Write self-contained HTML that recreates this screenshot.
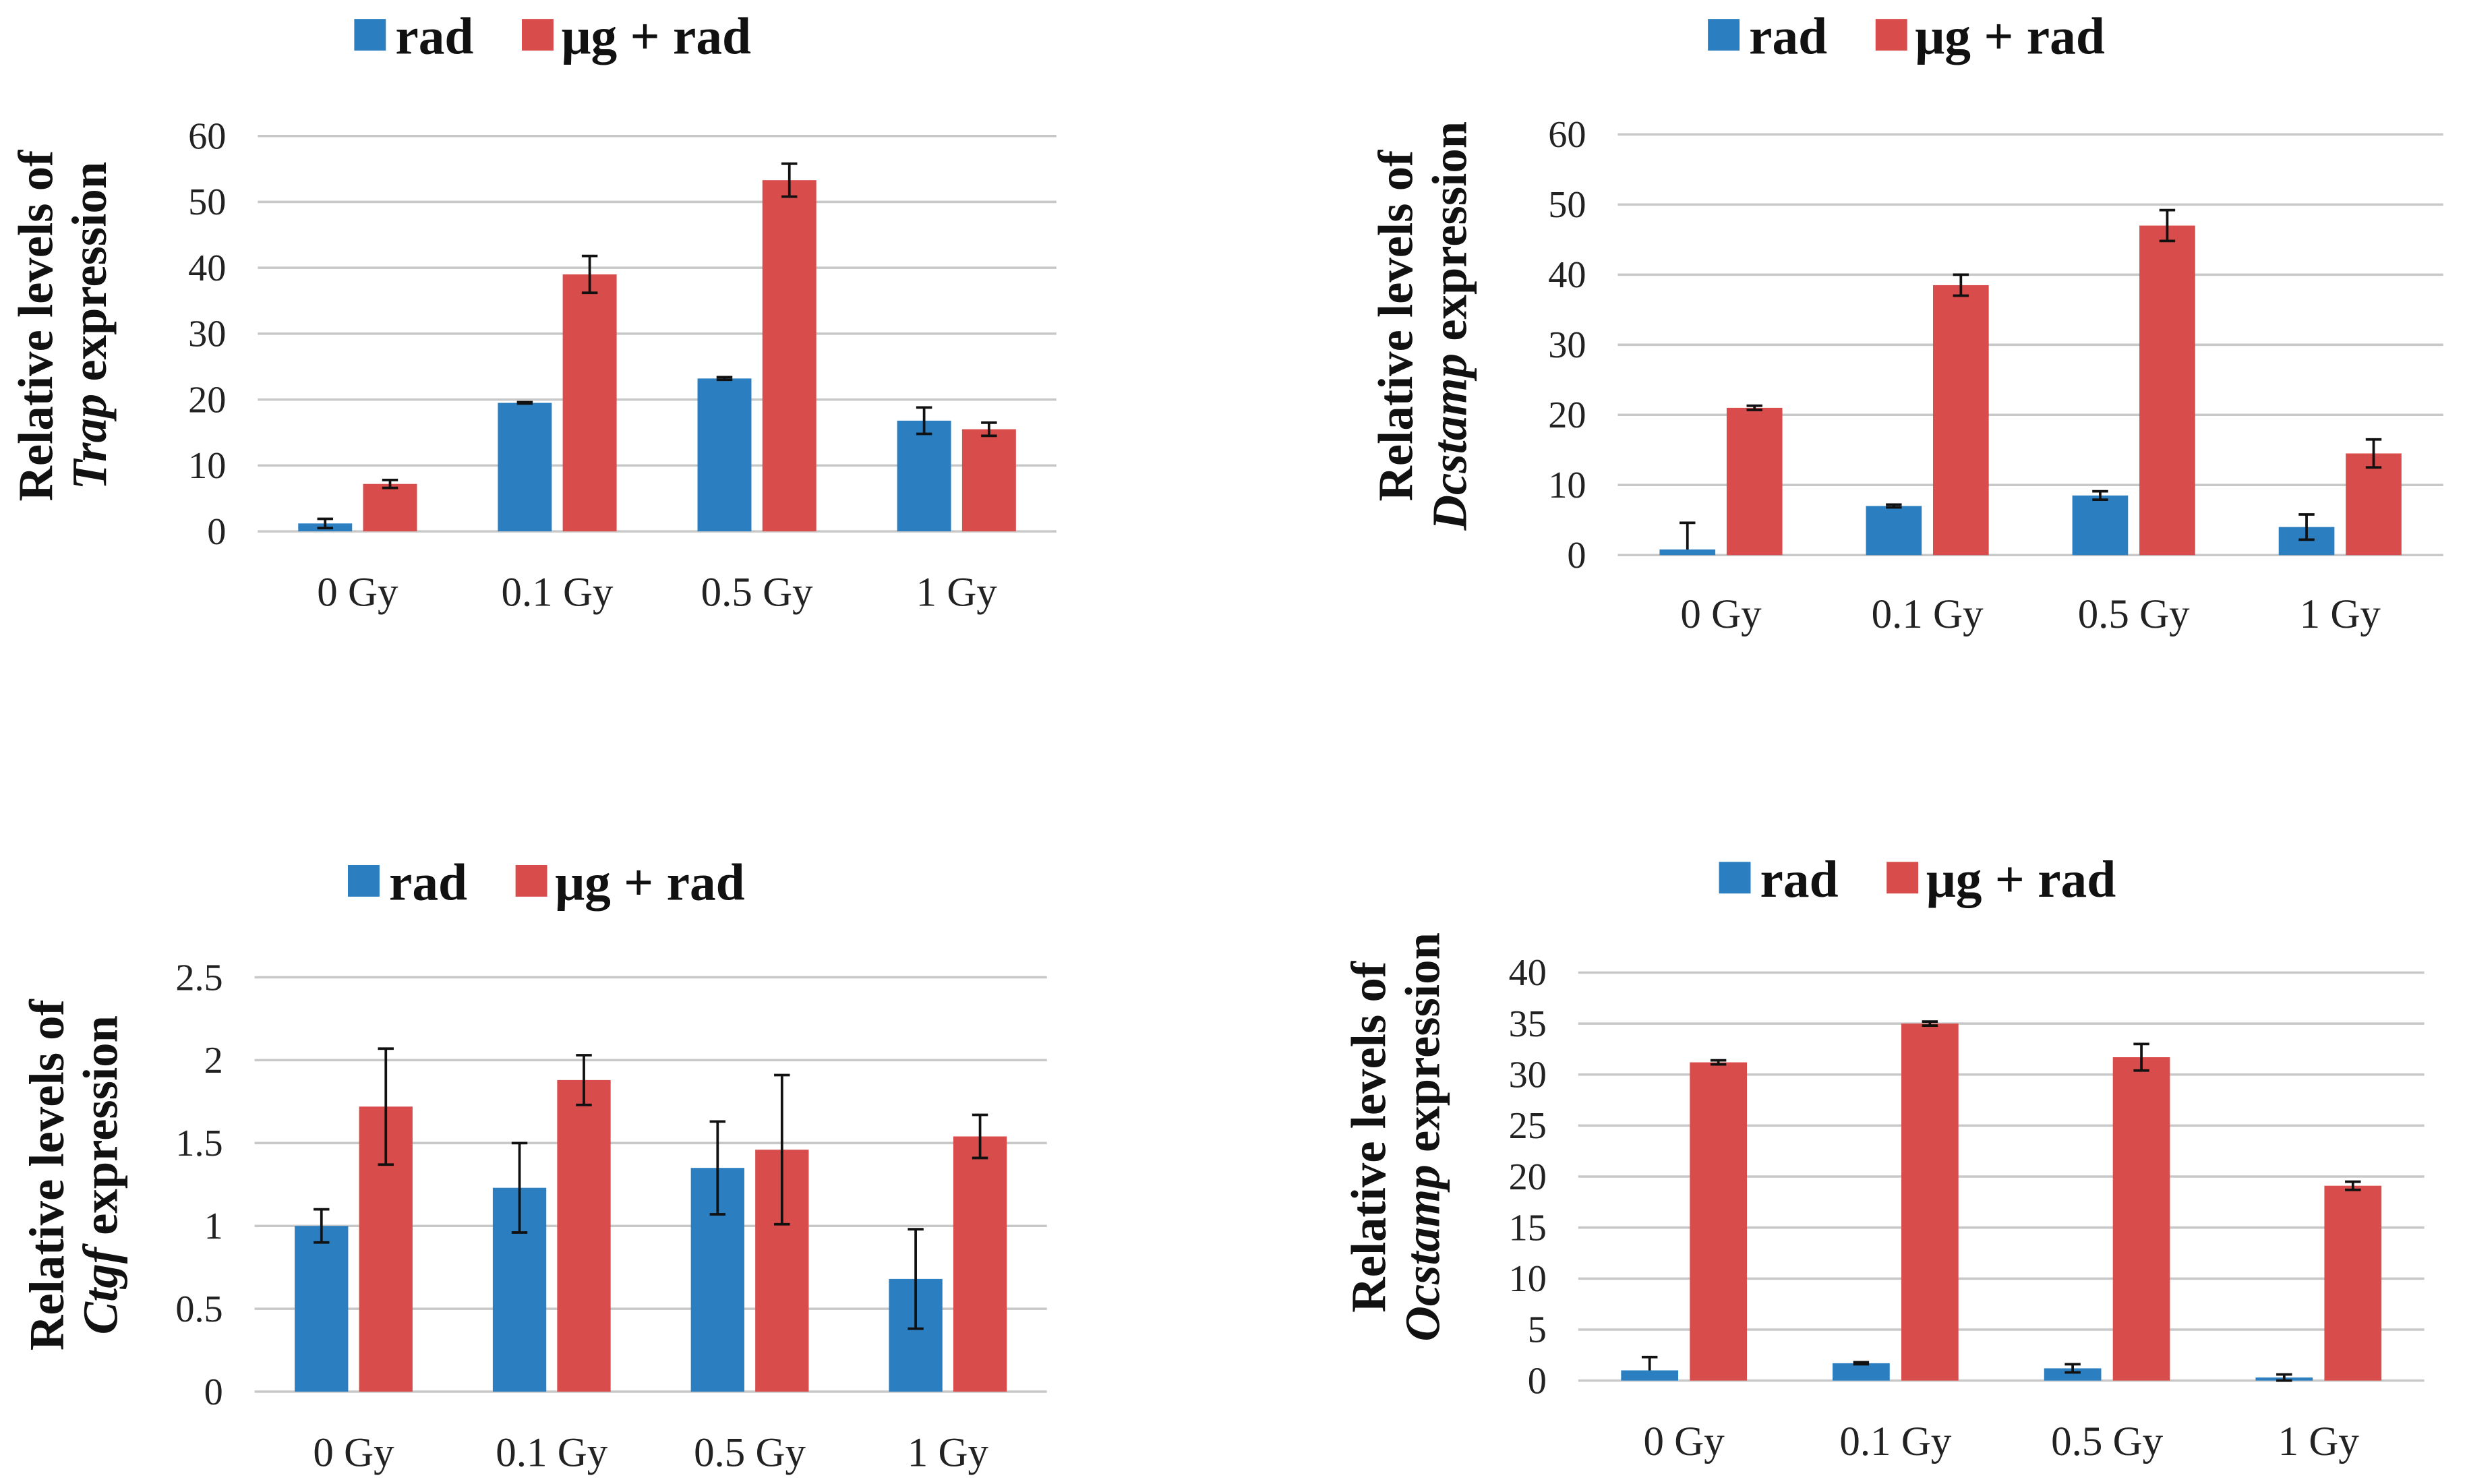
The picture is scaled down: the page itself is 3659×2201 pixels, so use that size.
<!DOCTYPE html>
<html><head><meta charset="utf-8"><style>
html,body{margin:0;padding:0;background:#fff;}
svg{display:block;}
text{font-family:"Liberation Serif",serif;}
</style></head>
<body>
<svg id="fig" width="3659" height="2201" viewBox="0 0 1560 938.4" preserveAspectRatio="none" xmlns="http://www.w3.org/2000/svg"></svg>
<script>
const categories = ["0 Gy","0.1 Gy","0.5 Gy","1 Gy"];
// Panel A: Trap
const trapTicks = [0,10,20,30,40,50,60];
const trapRad = [1.2,19.5,23.2,16.8];
const trapRadErrUp = [0.7,0.1,0.2,2.0];
const trapRadErrDn = [0.7,0.1,0.2,2.0];
const trapMg = [7.2,39,53.3,15.5];
const trapMgErrUp = [0.6,2.8,2.5,1.0];
const trapMgErrDn = [0.6,2.8,2.5,1.0];
// Panel B: Dcstamp
const dcTicks = [0,10,20,30,40,50,60];
const dcRad = [0.8,7.0,8.5,4.0];
const dcRadErrUp = [3.8,0.2,0.6,1.8];
const dcRadErrDn = [0,0.2,0.6,1.8];
const dcMg = [21,38.5,47,14.5];
const dcMgErrUp = [0.3,1.5,2.2,2.0];
const dcMgErrDn = [0.3,1.5,2.2,2.0];
// Panel C: Ctgf
const ctTicks = [0,0.5,1,1.5,2,2.5];
const ctTickLabels = ["0","0.5","1","1.5","2","2.5"];
const ctRad = [1.0,1.23,1.35,0.68];
const ctRadErrUp = [0.1,0.27,0.28,0.3];
const ctRadErrDn = [0.1,0.27,0.28,0.3];
const ctMg = [1.72,1.88,1.46,1.54];
const ctMgErrUp = [0.35,0.15,0.45,0.13];
const ctMgErrDn = [0.35,0.15,0.45,0.13];
// Panel D: Ocstamp
const ocTicks = [0,5,10,15,20,25,30,35,40];
const ocRad = [1.0,1.7,1.2,0.3];
const ocRadErrUp = [1.3,0.1,0.4,0.3];
const ocRadErrDn = [0,0.1,0.4,0.3];
const ocMg = [31.2,35,31.7,19.1];
const ocMgErrUp = [0.2,0.2,1.3,0.4];
const ocMgErrDn = [0.2,0.2,1.3,0.4];

const NS="http://www.w3.org/2000/svg";
const svg=document.getElementById('fig');
function mk(tag,attrs,parent){const e=document.createElementNS(NS,tag);for(const k in attrs)e.setAttribute(k,attrs[k]);(parent||svg).appendChild(e);return e;}
const BLUE="#2b7fc1", RED="#d94c4c";

function panel(p){
  const g=mk('g',{});
  
  
  const ymax=p.ticks[p.ticks.length-1];
  const yS=v=>p.y0-(v/ymax)*(p.y0-p.yTop);
  const cw=(p.x1-p.x0)/categories.length;
  const xS=i=>p.x0+cw*i;
  p.ticks.forEach((t,i)=>{
    const gl=mk('line',{x1:p.x0,x2:p.x1,y1:yS(t),y2:yS(t),stroke:"#c8c8c8","stroke-width":1.5},g);
    
    
    const tl=mk('text',{x:p.x0-20,y:yS(t)+8,"text-anchor":"end","font-size":24,fill:"#222"},g);
    tl.textContent=p.tickLabels?p.tickLabels[i]:String(t);
    
    
  });
  const bw=cw*0.27, gap=cw*0.055;
  const series=[[p.rad,p.radUp,p.radDn,BLUE,'rad'],[p.mg,p.mgUp,p.mgDn,RED,'mg-rad']];
  categories.forEach((c,i)=>{
    const cx=xS(i)+cw/2;
    series.forEach((s,k)=>{
      const bx=k===0?cx-gap/2-bw:cx+gap/2;
      const v=s[0][i];
      const r=mk('rect',{x:bx,y:yS(v),width:bw,height:p.y0-yS(v),fill:s[3]},g);
      
      
      const ex=bx+bw/2, yt=yS(v+s[1][i]), yb=yS(v-s[2][i]);
      const eb=mk('path',{d:`M${ex},${yt}V${yb}M${ex-5},${yt}H${ex+5}`+(s[2][i]>0?`M${ex-5},${yb}H${ex+5}`:''),stroke:"#111","stroke-width":1.6,fill:"none"},g);
      
      
    });
    const xl=mk('text',{x:cx,y:p.xl,"text-anchor":"middle","font-size":26,fill:"#222"},g);
    xl.textContent=c;
    
    
  });
  const tt=mk('text',{transform:`translate(${p.tx},${p.ty}) rotate(-90)`,"text-anchor":"middle","font-size":31,"font-weight":"bold",fill:"#111"},g);
  
  
  const t1=mk('tspan',{x:0,y:0},tt); t1.textContent="Relative levels of";
  const t2=mk('tspan',{x:0,dy:34},tt);
  const it=mk('tspan',{"font-style":"italic"},t2); it.textContent=p.gene;
  const t3=mk('tspan',{},t2); t3.textContent=" expression";
  const lg=mk('g',{},g);
  
  
  mk('rect',{x:p.lx,y:p.ly-11,width:20,height:20,fill:BLUE},lg);
  const a=mk('text',{x:p.lx+26,y:p.ly+11,"font-size":33,"font-weight":"bold",fill:"#111"},lg); a.textContent="rad";
  mk('rect',{x:p.lx+106,y:p.ly-11,width:20,height:20,fill:RED},lg);
  const b=mk('text',{x:p.lx+131,y:p.ly+11,"font-size":33,"font-weight":"bold",fill:"#111"},lg); b.textContent="μg + rad";
}
panel({name:'trap-chart',gene:'Trap',ticks:trapTicks,rad:trapRad,radUp:trapRadErrUp,radDn:trapRadErrDn,mg:trapMg,mgUp:trapMgErrUp,mgDn:trapMgErrDn,
  x0:163,x1:668,y0:336,yTop:86,xl:383,tx:33,ty:206,lx:224,ly:23});
panel({name:'dcstamp-chart',gene:'Dcstamp',ticks:dcTicks,rad:dcRad,radUp:dcRadErrUp,radDn:dcRadErrDn,mg:dcMg,mgUp:dcMgErrUp,mgDn:dcMgErrDn,
  x0:1023,x1:1545,y0:351,yTop:85,xl:397,tx:893,ty:206,lx:1080,ly:23});
panel({name:'ctgf-chart',gene:'Ctgf',ticks:ctTicks,tickLabels:ctTickLabels,rad:ctRad,radUp:ctRadErrUp,radDn:ctRadErrDn,mg:ctMg,mgUp:ctMgErrUp,mgDn:ctMgErrDn,
  x0:161,x1:662,y0:880,yTop:618,xl:927,tx:40,ty:743,lx:220,ly:558});
panel({name:'ocstamp-chart',gene:'Ocstamp',ticks:ocTicks,rad:ocRad,radUp:ocRadErrUp,radDn:ocRadErrDn,mg:ocMg,mgUp:ocMgErrUp,mgDn:ocMgErrDn,
  x0:998,x1:1533,y0:873,yTop:615,xl:920,tx:876,ty:719,lx:1087,ly:556});
</script>
</body></html>
